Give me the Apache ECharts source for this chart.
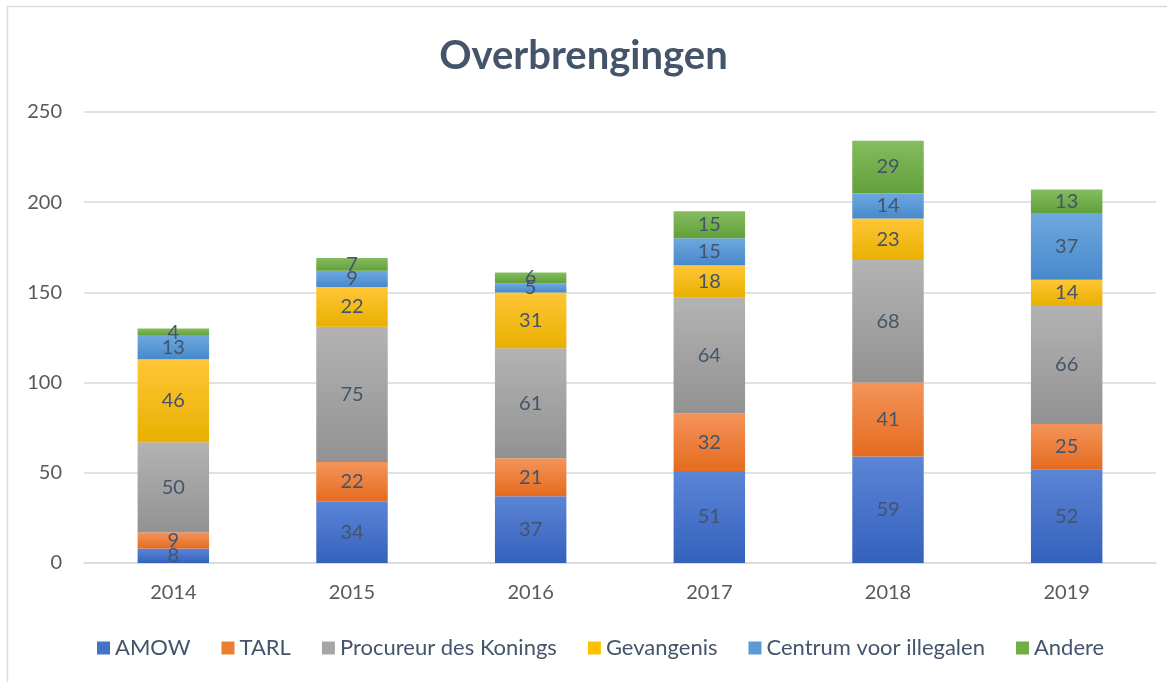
<!DOCTYPE html>
<html><head><meta charset="utf-8">
<script src="https://cdn.jsdelivr.net/npm/echarts@6/dist/echarts.min.js"></script>
<style>html,body{margin:0;padding:0;background:#fff}#c{width:1167px;height:682px}</style>
</head><body><div id="c"></div>
<script>
const categories = ['2014','2015','2016','2017','2018','2019'];
const seriesNames = ['AMOW','TARL','Procureur des Konings','Gevangenis','Centrum voor illegalen','Andere'];
const amow = [8,34,37,51,59,52];
const tarl = [9,22,21,32,41,25];
const procureur = [50,75,61,64,68,66];
const gevangenis = [46,22,31,18,23,14];
const centrum = [13,9,5,15,14,37];
const andere = [4,7,6,15,29,13];
const yTicks = [0,50,100,150,200,250];

const seriesData = [amow,tarl,procureur,gevangenis,centrum,andere];
const colorStops = [
  ['#5B85D6','#3461BC'],
  ['#F4945A','#E56B1F'],
  ['#B3B3B3','#929292'],
  ['#FFC637','#E9B000'],
  ['#6FA8E0','#4789CB'],
  ['#85BC5F','#62A03A']
];
const legendColors = ['#4472C4','#ED7D31','#A5A5A5','#FFC000','#5B9BD5','#70AD47'];
const font = 'Lato, "Open Sans", sans-serif';
const txt = '#44546A';

const chart = echarts.init(document.getElementById('c'));
chart.setOption({
  animation:false,
  backgroundColor:'#fff',
  title:{text:'Overbrengingen',left:'center',top:31,textStyle:{fontFamily:font,fontSize:40,fontWeight:'bold',color:txt}},
  grid:{left:84,right:11,top:112,bottom:119,containLabel:false},
  legend:{bottom:18,left:92,itemWidth:13,itemHeight:13,itemGap:31,icon:'rect',
    textStyle:{fontFamily:font,fontSize:22,color:txt},
    data:seriesNames.map((n,i)=>({name:n,itemStyle:{color:legendColors[i]}}))},
  xAxis:{type:'category',data:categories,
    axisLine:{lineStyle:{color:'#D9D9D9',width:1.5}},axisTick:{show:false},
    axisLabel:{fontFamily:font,fontSize:20,color:'#595959',margin:20}},
  yAxis:{type:'value',min:yTicks[0],max:yTicks[yTicks.length-1],interval:50,
    axisLine:{show:false},axisTick:{show:false},
    splitLine:{lineStyle:{color:'#D9D9D9',width:1.5}},
    axisLabel:{fontFamily:font,fontSize:20,color:'#595959',margin:22}},
  graphic:[{type:'rect',shape:{x:7.5,y:6.5,width:1200,height:700},style:{fill:'none',stroke:'#D9DDE2',lineWidth:1.5},silent:true}],
  series:seriesNames.map((n,i)=>({
    name:n,type:'bar',stack:'total',barWidth:'40%',
    data:seriesData[i],
    itemStyle:{color:new echarts.graphic.LinearGradient(0,0,0,1,[{offset:0,color:colorStops[i][0]},{offset:1,color:colorStops[i][1]}])},
    label:{show:true,position:'inside',fontFamily:font,fontSize:20,color:txt}
  }))
});
</script></body></html>
